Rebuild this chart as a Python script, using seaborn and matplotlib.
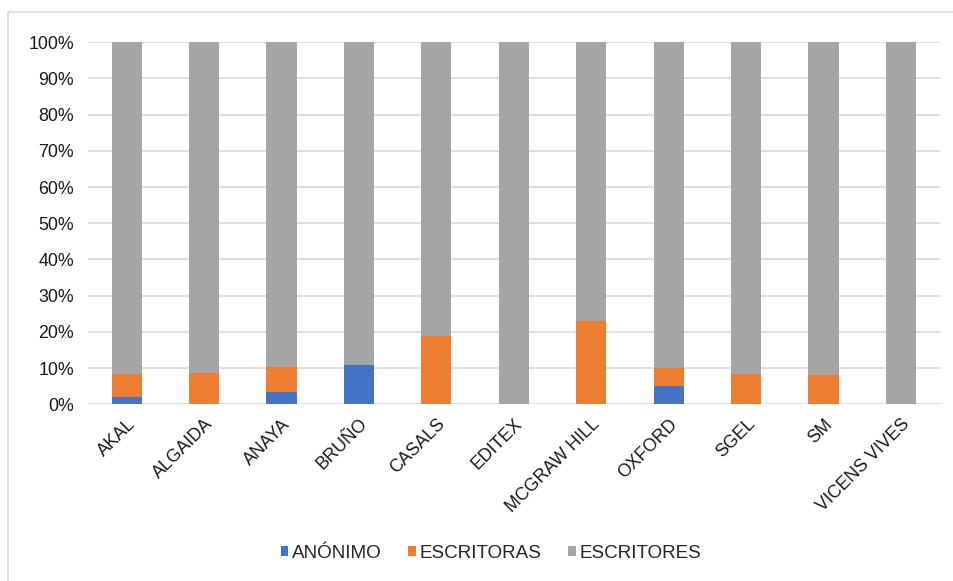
import matplotlib
matplotlib.use("Agg")
import matplotlib.pyplot as plt
from matplotlib.patches import Rectangle, Patch
from matplotlib.transforms import ScaledTranslation
import seaborn as sns
import pandas as pd

editoriales = ["AKAL", "ALGAIDA", "ANAYA", "BRUÑO", "CASALS", "EDITEX",
               "MCGRAW HILL", "OXFORD", "SGEL", "SM", "VICENS VIVES"]
anonimo = [2.0, 0.0, 3.4, 10.8, 0.0, 0.0, 0.0, 5.0, 0.0, 0.0, 0.0]
escritoras = [6.5, 8.8, 7.0, 0.0, 19.0, 0.0, 22.9, 5.2, 8.5, 8.2, 0.0]
escritores = [100 - a - e for a, e in zip(anonimo, escritoras)]

series = ["ANÓNIMO", "ESCRITORAS", "ESCRITORES"]
colores = ["#4472C4", "#ED7D31", "#A5A5A5"]

sns.set_theme(style="white")
plt.rcParams["font.family"] = ["Liberation Sans", "DejaVu Sans"]
FS = 12.8

df = pd.DataFrame({"editorial": editoriales, "ANÓNIMO": anonimo,
                   "ESCRITORAS": escritoras, "ESCRITORES": escritores})
# cumulative tops for stacking
df["top_anon"] = df["ANÓNIMO"]
df["top_escritoras"] = df["ANÓNIMO"] + df["ESCRITORAS"]
df["top_escritores"] = df["top_escritoras"] + df["ESCRITORES"]

fig = plt.figure(figsize=(9.54, 5.81), dpi=100)
ax = fig.add_axes([0.0922, 0.3038, 0.8928, 0.6239])

for col, color in zip(["top_escritores", "top_escritoras", "top_anon"], colores[::-1]):
    sns.barplot(data=df, x="editorial", y=col, color=color, width=0.39,
                ax=ax, saturation=1, linewidth=0)

ax.set_ylim(0, 100)
ax.set_xlim(-0.5, len(editoriales) - 0.5)
ax.set_yticks(range(0, 101, 10))
ax.set_yticklabels([f"{v}%" for v in range(0, 101, 10)], fontsize=FS, color="#1a1a1a")
ax.set_xlabel("")
ax.set_ylabel("")
ax.set_xticks(range(len(editoriales)))
ax.set_xticklabels(editoriales, rotation=45, ha="right", rotation_mode="anchor",
                   fontsize=FS, color="#1a1a1a")
shift = ScaledTranslation(-4 / 100, -2 / 100, fig.dpi_scale_trans)
for lbl in ax.get_xticklabels():
    lbl.set_transform(lbl.get_transform() + shift)
ax.tick_params(axis="y", length=0, pad=10)
ax.tick_params(axis="x", length=0, pad=8)
ax.yaxis.grid(True, color="#d9d9d9", linewidth=1.2)
ax.set_axisbelow(True)
for s in ax.spines.values():
    s.set_visible(False)

handles = [Patch(facecolor=c, edgecolor="none") for c in colores]
fig.legend(handles, series, loc="center", bbox_to_anchor=(491 / 954, 1 - 553 / 581),
           ncol=3, frameon=False, fontsize=13.6, handlelength=0.4, handleheight=0.4,
           handletextpad=0.2, columnspacing=1.4)

# chart frame (runs off the right and bottom edges)
fig.patches.append(Rectangle((8 / 954, -10 / 581), 960 / 954, 579 / 581,
                             transform=fig.transFigure, fill=False,
                             edgecolor="#d9d9d9", linewidth=1.2))

fig.savefig("out.png", dpi=100, facecolor="white")
